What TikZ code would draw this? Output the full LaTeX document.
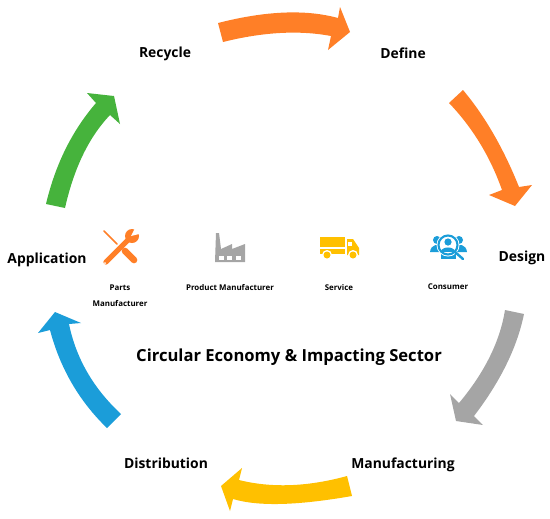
\documentclass[tikz,border=0pt]{standalone}
\usepackage{fontspec}
\setmainfont{Open Sans}
\usepackage{xcolor}
\usetikzlibrary{positioning}
\definecolor{sweeporange}{HTML}{FF7F27}
\definecolor{sweepgray}{HTML}{A5A5A5}
\definecolor{sweepyellow}{HTML}{FFC000}
\definecolor{sweepblue}{HTML}{1B9DD9}
\definecolor{sweepgreen}{HTML}{46B33C}
\tikzset{
    stage/.style={font=\bfseries\fontsize{7.9}{10}\selectfont, text=black},
    caption/.style={font=\bfseries\fontsize{4.5}{9}\selectfont, text=black, align=center},
    title/.style={font=\bfseries\fontsize{9.45}{12}\selectfont, text=black},
    sweep/.style={fill=#1, draw=none},
    cutout/.style={fill=white, draw=none}
}

\begin{document}
\begin{tikzpicture}[x=0.02cm, y=-0.02cm, node distance=0.6cm, on grid]
    \useasboundingbox (0,0) rectangle (550,518);

    % Stages round the ring
    \node[stage] (recycle) at (165,54) {Recycle};
    \node[stage] (define) at (403,53) {Define};
    \node[stage] (design) at (522,258) {Design};
    \node[stage] (manufacturing) at (403,465) {Manufacturing};
    \node[stage] (distribution) at (166,463) {Distribution};
    \node[stage] (application) at (47,260) {Application};
    \node[title] (heading) at (289,357) {Circular Economy \& Impacting Sector};

    % Sector captions
    \coordinate (tools) at (120,248);
    \coordinate (factory) at (230,248);
    \coordinate (truck) at (339,248);
    \coordinate (people) at (448,248);
    \node[caption, below=0.62cm of tools] (parts) {Parts\\Manufacturer};
    \node[caption, below=of factory] (product) {Product Manufacturer};
    \node[caption, below=of truck] (service) {Service};
    \node[caption, below=of people] (consumer) {Consumer};

    % Recycle to Define
    \path[sweep=sweeporange] (218,23) .. controls (265,11) and (305,9) .. (338,18) -- (340,7) -- (350,32)
        -- (328,50) -- (331,36) .. controls (299,30) and (263,32) .. (223,42) -- cycle;
    % Define to Design
    \path[sweep=sweeporange] (463,90) .. controls (484,115) and (503,147) .. (519,187) -- (532,185) -- (515,206)
        -- (489,195) -- (502,190) .. controls (490,156) and (472,127) .. (449,103) -- cycle;
    % Design to Manufacturing
    \path[sweep=sweepgray] (524,314) .. controls (517,348) and (500,382) .. (474,416) -- (483,425) -- (456,421)
        -- (450,394) -- (459,403) .. controls (485,372) and (500,341) .. (505,310) -- cycle;
    % Manufacturing to Distribution
    \path[sweep=sweepyellow] (347,476) .. controls (307,487) and (271,488) .. (239,480) -- (242,468) -- (221,486)
        -- (230,511) -- (233,499) .. controls (260,507) and (300,505) .. (352,496) -- cycle;
    % Distribution to Application
    \path[sweep=sweepblue] (121,414) .. controls (93,388) and (76,358) .. (69,324) -- (81,323) -- (55,312)
        -- (38,333) -- (50,330) .. controls (60,368) and (79,401) .. (107,428) -- cycle;
    % Application to Recycle
    \path[sweep=sweepgreen] (46,204) .. controls (55,166) and (71,132) .. (96,103) -- (87,93) -- (114,96)
        -- (120,124) -- (110,115) .. controls (89,137) and (74,168) .. (65,208) -- cycle;

    % Wrench and screwdriver
    \draw[sweeporange, line width=0.9pt, line cap=round] (104,231) -- (117,244);
    \draw[sweeporange, line width=3.8pt, line cap=round] (125,251) -- (134,260);
    \draw[sweeporange, line width=3pt, line cap=round] (106,262) -- (128,240);
    \fill[sweeporange] (132,236) circle (7);
    \path[sweep=white] (131,236) -- (136,226) -- (143,233) -- cycle;
    \fill[white] (105,263) circle (1);

    % Factory
    \path[sweep=sweepgray] (216,233) -- (219,233) -- (221,249) -- (232,244) -- (232,249)
        -- (245,244) -- (245,262) -- (215,262) -- cycle;
    \foreach \winx in {219,227,236}
        \path[cutout] (\winx,256) rectangle ++(5,4);

    % Truck
    \path[sweep=sweepyellow] (320,237) rectangle (345,247);
    \path[sweep=sweepyellow] (320,249) rectangle (345,254);
    \path[sweep=sweepyellow] (347,239) -- (353,239) -- (359,248) -- (359,255) -- (347,255) -- cycle;
    \path[cutout] (348,242) rectangle (352,246);
    \fill[white] (327,255) circle (5);
    \fill[white] (353,255) circle (5);
    \fill[sweepyellow] (327,255) circle (3.5);
    \fill[sweepyellow] (353,255) circle (3.5);

    % Consumer under the lens
    \fill[sweepblue] (437,240) circle (4);
    \fill[sweepblue] (459,240) circle (4);
    \path[sweep=sweepblue] (430,252) .. controls (431,244) and (438,244) .. (442,246) -- (442,252) -- cycle;
    \path[sweep=sweepblue] (467,252) .. controls (466,244) and (459,244) .. (455,246) -- (455,252) -- cycle;
    \path[sweep=sweepblue] (441,251) rectangle (456,259);
    \fill[white] (448,245) circle (11.5);
    \draw[sweepblue, line width=1.2pt] (448,245) circle (9.5);
    \fill[sweepblue] (448,242) circle (3.6);
    \path[sweep=sweepblue] (441,252) .. controls (441,246) and (455,246) .. (455,252) -- cycle;
    \draw[sweepblue, line width=1.4pt, line cap=round] (455,252) -- (463,259);
\end{tikzpicture}
\end{document}
